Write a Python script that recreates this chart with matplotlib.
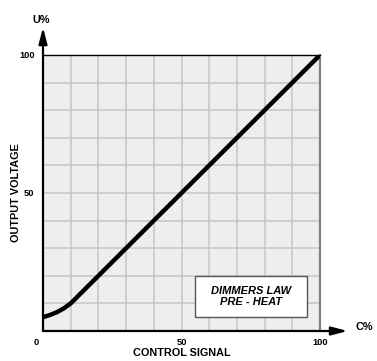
import matplotlib
matplotlib.use("Agg")
import matplotlib.pyplot as plt
import matplotlib.transforms as mtransforms
from matplotlib.patches import Rectangle

# Dimmer law curve: control signal (%) -> output voltage (%)
control_pct = [0, 2.5, 5, 7.5, 10, 100]
output_pct = [5, 5.8, 6.8, 8.2, 10, 100]

x_ticks = [0, 50, 100]
x_tick_labels = ["0", "50", "100"]
y_ticks = [50, 100]
y_tick_labels = ["50", "100"]
grid_steps = list(range(0, 101, 10))

plt.rcParams["font.family"] = ["Liberation Sans", "DejaVu Sans"]
plt.rcParams["font.weight"] = "bold"

W, H = 377, 361
fig = plt.figure(figsize=(W / 100, H / 100), dpi=100)
fig.patch.set_facecolor("white")

left_px, right_px, top_px, bottom_px = 43, 320, 55, 331
ax_w = right_px - left_px
ax_h = bottom_px - top_px
ax = fig.add_axes([left_px / W, (H - bottom_px) / H, ax_w / W, ax_h / H])
ax.set_facecolor("#eeeeee")
ax.set_xlim(0, 100)
ax.set_ylim(0, 100)

# light grid every 10 %
for g in grid_steps[1:-1]:
    ax.axvline(g, color="#c6c6c6", lw=1.1, zorder=1)
    ax.axhline(g, color="#c6c6c6", lw=1.1, zorder=1)

ax.plot(control_pct, output_pct, color="black", lw=3.2,
        solid_capstyle="butt", solid_joinstyle="round", zorder=3)

# frame
ax.spines["top"].set_color("black")
ax.spines["top"].set_linewidth(1.0)
ax.spines["right"].set_color("#808080")
ax.spines["right"].set_linewidth(1.6)
ax.spines["left"].set_visible(False)
ax.spines["bottom"].set_visible(False)

# axes with arrow heads
arrow_kw = dict(arrowstyle="-|>,head_length=0.42,head_width=0.11",
                color="black", lw=1.6, mutation_scale=23, shrinkA=0, shrinkB=0)
ax.annotate("", xy=(0, 1.10), xytext=(0, 0), xycoords="axes fraction",
            textcoords="axes fraction", arrowprops=arrow_kw,
            annotation_clip=False, zorder=5)
ax.annotate("", xy=(1.10, 0), xytext=(0, 0), xycoords="axes fraction",
            textcoords="axes fraction", arrowprops=arrow_kw,
            annotation_clip=False, zorder=5)

ax.set_xticks(x_ticks)
ax.set_xticklabels(x_tick_labels, fontsize=6.7, fontweight="bold")
ax.set_yticks(y_ticks)
ax.set_yticklabels(y_tick_labels, fontsize=6.7, fontweight="bold")
ax.tick_params(axis="both", length=0)
ax.tick_params(axis="x", pad=5)
ax.tick_params(axis="y", pad=6)

# nudge the origin label to the left of the corner
lbl0 = ax.get_xticklabels()[0]
lbl0.set_transform(lbl0.get_transform() +
                   mtransforms.ScaledTranslation(-7 / 100, 0, fig.dpi_scale_trans))

ax.set_xlabel("CONTROL SIGNAL", fontsize=7.8, fontweight="bold")
ax.xaxis.set_label_coords(0.5, -(353 - bottom_px) / ax_h)
ax.xaxis.label.set_va("center")
ax.set_ylabel("OUTPUT VOLTAGE", fontsize=7.8, fontweight="bold")
ax.yaxis.set_label_coords(-(left_px - 16) / ax_w, 0.5)
ax.yaxis.label.set_va("center")

fig.text(41 / W, 1 - 20 / H, "U%", fontsize=7.8, fontweight="bold",
         ha="center", va="center")
fig.text(364 / W, 1 - 327 / H, "C%", fontsize=7.8, fontweight="bold",
         ha="center", va="center")

# legend box with the law name
bx0, bx1, by0, by1 = 195, 307, 276, 317
box = Rectangle(((bx0 - left_px) / ax_w, (bottom_px - by1) / ax_h),
                (bx1 - bx0) / ax_w, (by1 - by0) / ax_h,
                transform=ax.transAxes, facecolor="white",
                edgecolor="#555555", lw=1.0, zorder=4)
ax.add_patch(box)
ax.text(((bx0 + bx1) / 2 - left_px) / ax_w,
        (bottom_px - (by0 + by1) / 2) / ax_h,
        "DIMMERS LAW\nPRE - HEAT", transform=ax.transAxes,
        ha="center", va="center", fontsize=8, fontweight="bold",
        fontstyle="italic", linespacing=1.15, zorder=6)

fig.savefig("out.png", dpi=100)
